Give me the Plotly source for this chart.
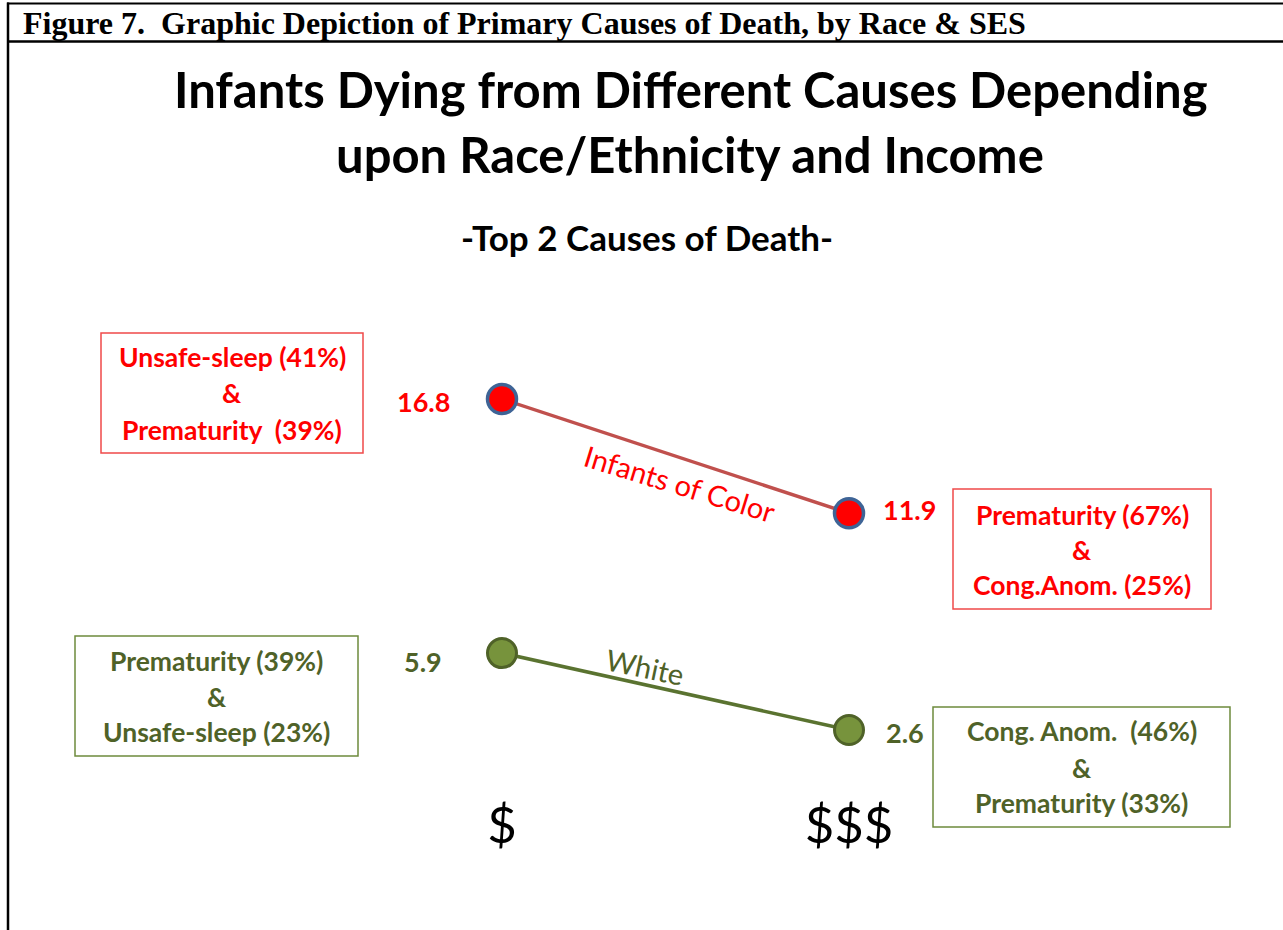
import plotly.graph_objects as go

# ---- data ----
incomes = ["$", "$$$"]
color_rates = [16.8, 11.9]
white_rates = [5.9, 2.6]
color_causes = [["Unsafe-sleep (41%)", "&", "Prematurity\u00a0 (39%)"],
                ["Prematurity (67%)", "&", "Cong.Anom. (25%)"]]
white_causes = [["Prematurity (39%)", "&", "Unsafe-sleep (23%)"],
                ["Cong. Anom.\u00a0 (46%)", "&", "Prematurity (33%)"]]
series_names = ["Infants of Color", "White"]

W, H = 1283, 930
RED = "#FF0000"
RED_LINE = "#C0504D"
RED_BOX = "#F04A4A"
GREEN_TXT = "#4F6228"
GREEN_FILL = "#77933C"
GREEN_BOX = "#6E8B3D"
FONT = "Lato"

def px(x):
    return x / W

def py(y):
    return 1 - y / H

xpos = list(range(len(incomes)))

fig = go.Figure()
fig.add_trace(go.Scatter(
    x=xpos, y=color_rates, mode="lines+markers", name=series_names[0],
    line=dict(color=RED_LINE, width=3.5),
    marker=dict(size=29, color=RED, line=dict(color="#3E6496", width=3.5)),
    hoverinfo="skip", showlegend=False))
fig.add_trace(go.Scatter(
    x=xpos, y=white_rates, mode="lines+markers", name=series_names[1],
    line=dict(color="#5A7330", width=3.5),
    marker=dict(size=29, color=GREEN_FILL, line=dict(color=GREEN_TXT, width=3)),
    hoverinfo="skip", showlegend=False))

ann = []
# header
ann.append(dict(x=px(21), y=py(23), xref="paper", yref="paper", xanchor="left", yanchor="middle",
                text="<b>Figure 7.\u00a0 Graphic Depiction of Primary Causes of Death, by Race &amp; SES</b>",
                showarrow=False, font=dict(family="Liberation Serif", size=32, color="black")))
# titles
ann.append(dict(x=px(691), y=py(89), xref="paper", yref="paper", xanchor="center", yanchor="middle",
                text="<b>Infants Dying from Different Causes Depending</b>", showarrow=False,
                font=dict(family=FONT, size=49, color="black")))
ann.append(dict(x=px(690), y=py(154), xref="paper", yref="paper", xanchor="center", yanchor="middle",
                text="<b>upon Race/Ethnicity and Income</b>", showarrow=False,
                font=dict(family=FONT, size=49, color="black")))
ann.append(dict(x=px(647), y=py(237), xref="paper", yref="paper", xanchor="center", yanchor="middle",
                text="<b>-Top 2 Causes of Death-</b>", showarrow=False,
                font=dict(family=FONT, size=35, color="black")))

# value labels
VS = 27
ann.append(dict(x=xpos[0], y=color_rates[0], xref="x", yref="y", xanchor="right", xshift=-50, yshift=-2,
                text="<b>%.1f</b>" % color_rates[0], showarrow=False, font=dict(family=FONT, size=VS, color=RED)))
ann.append(dict(x=xpos[1], y=color_rates[1], xref="x", yref="y", xanchor="left", xshift=32, yshift=4,
                text="<b>%.1f</b>" % color_rates[1], showarrow=False, font=dict(family=FONT, size=VS, color=RED)))
ann.append(dict(x=xpos[0], y=white_rates[0], xref="x", yref="y", xanchor="right", xshift=-58, yshift=-8,
                text="<b>%.1f</b>" % white_rates[0], showarrow=False, font=dict(family=FONT, size=VS, color=GREEN_TXT)))
ann.append(dict(x=xpos[1], y=white_rates[1], xref="x", yref="y", xanchor="left", xshift=35, yshift=-2,
                text="<b>%.1f</b>" % white_rates[1], showarrow=False, font=dict(family=FONT, size=VS, color=GREEN_TXT)))

# series labels along lines
ann.append(dict(x=px(680), y=py(484), xref="paper", yref="paper", xanchor="center", yanchor="middle",
                text=series_names[0], textangle=17, showarrow=False,
                font=dict(family=FONT, size=29, color=RED)))
ann.append(dict(x=px(645), y=py(666), xref="paper", yref="paper", xanchor="center", yanchor="middle",
                text=series_names[1], textangle=12, showarrow=False,
                font=dict(family=FONT, size=29, color=GREEN_TXT)))

shapes = []
boxes = [
    (101, 363, 333, 453, [357, 393, 430], color_causes[0], RED, RED_BOX),
    (953, 1211, 489, 609, [515, 550, 585], color_causes[1], RED, RED_BOX),
    (75, 358, 636, 756, [661, 697, 732], white_causes[0], GREEN_TXT, GREEN_BOX),
    (933, 1230, 707, 827, [731, 768, 803], white_causes[1], GREEN_TXT, GREEN_BOX),
]
for x0, x1, y0, y1, ys, lines, tc, bc in boxes:
    shapes.append(dict(type="rect", xref="paper", yref="paper", x0=px(x0), x1=px(x1), y0=py(y0), y1=py(y1),
                       line=dict(color=bc, width=1.5), fillcolor="rgba(0,0,0,0)"))
    for yy, t in zip(ys, lines):
        ann.append(dict(x=px((x0 + x1) / 2), y=py(yy), xref="paper", yref="paper", xanchor="center",
                        yanchor="middle", text="<b>%s</b>" % t.replace("&", "&amp;"), showarrow=False,
                        font=dict(family=FONT, size=26.5, color=tc)))

# frame lines
shapes.append(dict(type="line", xref="paper", yref="paper", x0=px(7), x1=1, y0=py(3.5), y1=py(3.5),
                   line=dict(color="black", width=2)))
shapes.append(dict(type="line", xref="paper", yref="paper", x0=px(7), x1=1, y0=py(41.5), y1=py(41.5),
                   line=dict(color="black", width=2.5)))
shapes.append(dict(type="line", xref="paper", yref="paper", x0=px(8), x1=px(8), y0=py(2.5), y1=0,
                   line=dict(color="black", width=2.5)))

# axis scaling: x=0 -> 502px, x=1 -> 849px ; y: 16.8 -> 399px, 2.6 -> 730px
xs = 849 - 502
x_range = [-502 / xs, 1 + (W - 849) / xs]
ys_ = (730 - 399) / (16.8 - 2.6)
y0v = 399 + 16.8 * ys_
y_range = [(y0v - H) / ys_, y0v / ys_]

fig.update_layout(
    width=W, height=H, margin=dict(l=0, r=0, t=0, b=0),
    paper_bgcolor="white", plot_bgcolor="white",
    xaxis=dict(range=x_range, showgrid=False, zeroline=False, showline=False, ticks="",
               tickvals=xpos, ticktext=incomes, tickfont=dict(family=FONT, size=51, color="black"),
               anchor="free", position=py(791), fixedrange=True),
    yaxis=dict(range=y_range, visible=False, showgrid=False, zeroline=False, fixedrange=True),
    annotations=ann, shapes=shapes, showlegend=False,
)

fig.write_html("out.html", config={"displayModeBar": False},
               post_script="document.body.style.margin='0';document.body.style.overflow='hidden';")
